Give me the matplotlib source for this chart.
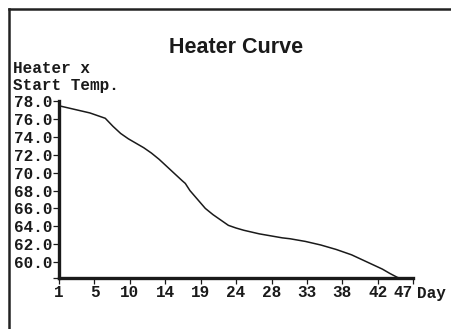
import matplotlib.pyplot as plt
from matplotlib.lines import Line2D

days = [1, 2, 3, 4, 5, 6, 7, 8, 9, 10, 11, 12, 13, 14, 15, 16, 17, 17.4, 18, 19,
        20, 21, 22, 23, 24, 25, 26, 27, 28, 29, 30, 31, 32, 33, 34, 35, 36, 37,
        38, 39, 40, 41, 42, 43, 44, 45, 45.3]
temps = [77.5, 77.3, 77.1, 76.9, 76.7, 76.4, 76.1, 75.2, 74.4, 73.8, 73.3, 72.8,
         72.2, 71.5, 70.7, 69.9, 69.1, 68.8, 68.0, 67.0, 66.0, 65.3, 64.7, 64.1,
         63.8, 63.55, 63.35, 63.15, 63.0, 62.85, 62.7, 62.6, 62.45, 62.3, 62.1,
         61.9, 61.65, 61.4, 61.1, 60.8, 60.4, 60.0, 59.6, 59.2, 58.7, 58.25, 58.2]
x_labels = ['1', '5', '10', '14', '19', '24', '28', '33', '38', '42', '47']
y_ticks = [60, 62, 64, 66, 68, 70, 72, 74, 76, 78]

mono = 'Liberation Mono'
ink = '#1a1a1a'
fig = plt.figure(figsize=(4.51, 3.29), dpi=100)
ax = fig.add_axes([0.131, 0.155, 0.785, 0.537])
ax.plot(days, temps, color=ink, lw=1.1)

ax.set_xlim(1, 47)
ax.set_ylim(58.2, 78)
xpos = [1 + i * 4.6 for i in range(len(x_labels))]
ax.set_xticks(xpos)
ax.set_xticklabels(x_labels)
ax.set_yticks([58.2] + y_ticks)
ax.set_yticklabels([''] + ['%.1f' % v for v in y_ticks])

for s in ['top', 'right']:
    ax.spines[s].set_visible(False)
for s in ['left', 'bottom']:
    ax.spines[s].set_linewidth(2.4)
    ax.spines[s].set_color(ink)
ax.tick_params(length=4, width=0.9, pad=1, color=ink)
for lab in ax.get_xticklabels() + ax.get_yticklabels():
    lab.set_fontfamily(mono)
    lab.set_fontweight('bold')
    lab.set_fontsize(11.5)
    lab.set_color(ink)
ax.get_xticklabels()[-1].set_horizontalalignment('right')

fig.text(0.925, 0.155 - 0.046, 'Day', family=mono, weight='bold', fontsize=11.5,
         va='center', color=ink)
fig.text(0.029, 0.765, 'Heater x\nStart Temp.', family=mono, weight='bold',
         fontsize=11.5, va='center', linespacing=1.15, color=ink)
fig.text(0.5235, 0.839, 'Heater Curve', family='Liberation Sans', weight='bold',
         fontsize=15.5, color=ink, ha='center', va='baseline')

# page border
fig.add_artist(Line2D([0.019, 0.019], [0, 0.972], lw=1.8, color='#222222'))
fig.add_artist(Line2D([0.019, 1], [0.972, 0.972], lw=1.8, color='#222222'))

plt.savefig('out.png', dpi=100)
